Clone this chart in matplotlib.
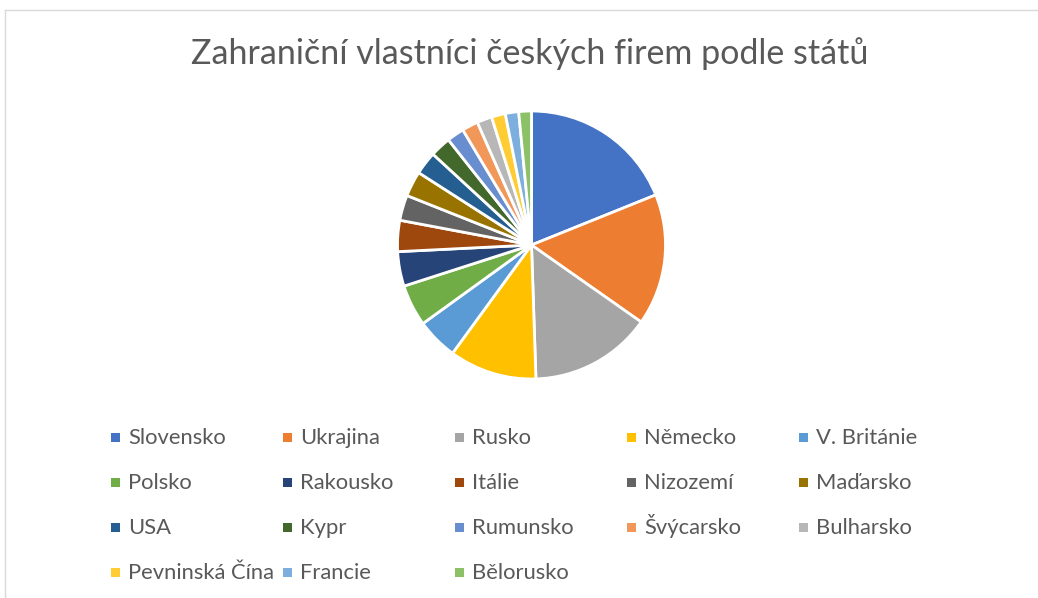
import matplotlib.pyplot as plt
from matplotlib.patches import Rectangle
from matplotlib.lines import Line2D

countries = ["Slovensko", "Ukrajina", "Rusko", "Německo", "V. Británie",
             "Polsko", "Rakousko", "Itálie", "Nizozemí", "Maďarsko",
             "USA", "Kypr", "Rumunsko", "Švýcarsko", "Bulharsko",
             "Pevninská Čína", "Francie", "Bělorusko"]
shares = [68, 57, 53, 38, 18, 18, 15, 13.5, 11, 11,
          10, 9, 7.5, 7, 6.5, 6, 5.8, 5.5]
colors = ["#4472C4", "#ED7D31", "#A5A5A5", "#FFC000", "#5B9BD5",
          "#70AD47", "#264478", "#9E480E", "#636363", "#997300",
          "#255E91", "#43682B", "#698ED0", "#F1975A", "#B7B7B7",
          "#FFCD33", "#7CAFDD", "#8CC168"]

W, H = 1038, 598
fig = plt.figure(figsize=(W / 100, H / 100), dpi=100)
fig.patch.set_facecolor("white")
plt.rcParams['font.family'] = ['Lato', 'DejaVu Sans']
txt = "#595959"

# chart frame (cropped screenshot: only top and left edges visible)
fig.add_artist(Line2D([5 / W, 5 / W], [0, 1 - 10 / H], transform=fig.transFigure, color="#d9d9d9", lw=1))
fig.add_artist(Line2D([5 / W, 1], [1 - 10 / H, 1 - 10 / H], transform=fig.transFigure, color="#d9d9d9", lw=1))

# pie
cx, cy, r = 531.5, 245, 134
ax = fig.add_axes([(cx - r) / W, (H - cy - r) / H, 2 * r / W, 2 * r / H])
ax.pie(shares, colors=colors, startangle=90, counterclock=False,
       wedgeprops=dict(edgecolor="white", linewidth=2))
ax.set_xlim(-1, 1)
ax.set_ylim(-1, 1)
ax.axis("off")

fig.text(530 / W, 1 - 64 / H, "Zahraniční vlastníci českých firem podle států",
         ha="center", va="baseline", fontsize=24.5, color=txt)

# legend, 5 equal columns like Excel
col_x = 111
col_w = 172
row_y = 437
row_h = 45
sq = 9
for i, (name, c) in enumerate(zip(countries, colors)):
    row, col = divmod(i, 5)
    x = col_x + col * col_w
    y = row_y + row * row_h
    fig.add_artist(Rectangle((x / W, 1 - (y + sq / 2) / H), sq / W, sq / H,
                             transform=fig.transFigure, facecolor=c, edgecolor="none"))
    fig.text((x + 17) / W, 1 - (y + 7) / H, name, ha="left", va="baseline",
             fontsize=15.8, color=txt)

fig.savefig("out.png", dpi=100, facecolor="white")
